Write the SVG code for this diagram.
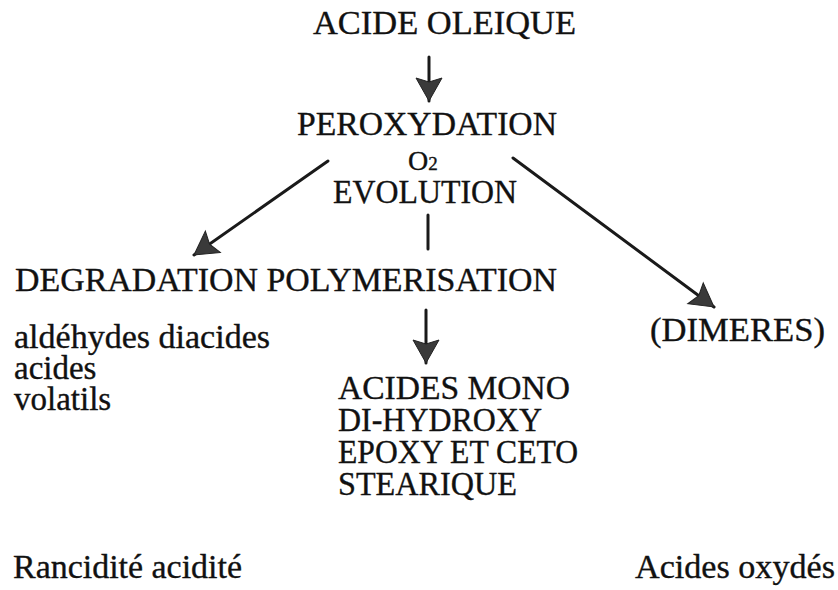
<svg xmlns="http://www.w3.org/2000/svg" width="838" height="590" viewBox="0 0 838 590">
  <style>
    text { font-family: "Liberation Serif", "Times New Roman", serif; fill: #111; stroke: #111; stroke-width: 0.35; }
    .cap { font-size: 33px; }
    .low { font-size: 33px; }
    .edge { stroke: #1a1a1a; stroke-width: 3; fill: none; stroke-linecap: round; }
  </style>
  <defs>
    <!-- stippled grey arrowhead, tip at the line end -->
    <marker id="head" markerUnits="userSpaceOnUse" markerWidth="30" markerHeight="30" viewBox="-24 -15 26 30" refX="0" refY="0" orient="auto">
      <path d="M-23,-13 L0,0 L-23,13 L-19,0 Z" fill="#3a3a3a" stroke="#222" stroke-width="1"/>
    </marker>
  </defs>

  <g id="connectors">
    <line class="edge" x1="429" y1="57" x2="429" y2="101" marker-end="url(#head)"/>
    <line class="edge" x1="328" y1="161" x2="194" y2="255" marker-end="url(#head)"/>
    <line class="edge" x1="513" y1="158" x2="714" y2="307" marker-end="url(#head)"/>
    <line class="edge" x1="428" y1="215" x2="428" y2="249"/>
    <line class="edge" x1="426" y1="310" x2="426" y2="363" marker-end="url(#head)"/>
  </g>

  <g id="acide-oleique">
    <text class="cap" x="313" y="34" textLength="263" lengthAdjust="spacingAndGlyphs">ACIDE OLEIQUE</text>
  </g>

  <g id="peroxydation">
    <text class="cap" x="297" y="135" textLength="260" lengthAdjust="spacingAndGlyphs">PEROXYDATION</text>
    <text x="408" y="170" font-size="28">O<tspan font-size="19">2</tspan></text>
    <text class="cap" x="333" y="203" textLength="184" lengthAdjust="spacingAndGlyphs">EVOLUTION</text>
  </g>

  <g id="degradation-polymerisation">
    <text class="cap" x="15" y="291" textLength="542" lengthAdjust="spacingAndGlyphs">DEGRADATION POLYMERISATION</text>
  </g>

  <g id="produits-degradation">
    <text class="low" x="14" y="348" textLength="256" lengthAdjust="spacingAndGlyphs">aldéhydes diacides</text>
    <text class="low" x="14" y="379">acides</text>
    <text class="low" x="14" y="410">volatils</text>
  </g>

  <g id="dimeres">
    <text class="cap" x="650" y="341" textLength="175" lengthAdjust="spacingAndGlyphs">(DIMERES)</text>
  </g>

  <g id="acides-stearique">
    <text class="cap" x="338" y="399" textLength="232" lengthAdjust="spacingAndGlyphs">ACIDES MONO</text>
    <text class="cap" x="338" y="431" textLength="204" lengthAdjust="spacingAndGlyphs">DI-HYDROXY</text>
    <text class="cap" x="338" y="463" textLength="240" lengthAdjust="spacingAndGlyphs">EPOXY ET CETO</text>
    <text class="cap" x="338" y="495" textLength="179" lengthAdjust="spacingAndGlyphs">STEARIQUE</text>
  </g>

  <g id="rancidite">
    <text class="low" x="13" y="578" textLength="229" lengthAdjust="spacingAndGlyphs">Rancidité acidité</text>
  </g>

  <g id="acides-oxydes">
    <text class="low" x="635" y="578" textLength="200" lengthAdjust="spacingAndGlyphs">Acides oxydés</text>
  </g>
</svg>
